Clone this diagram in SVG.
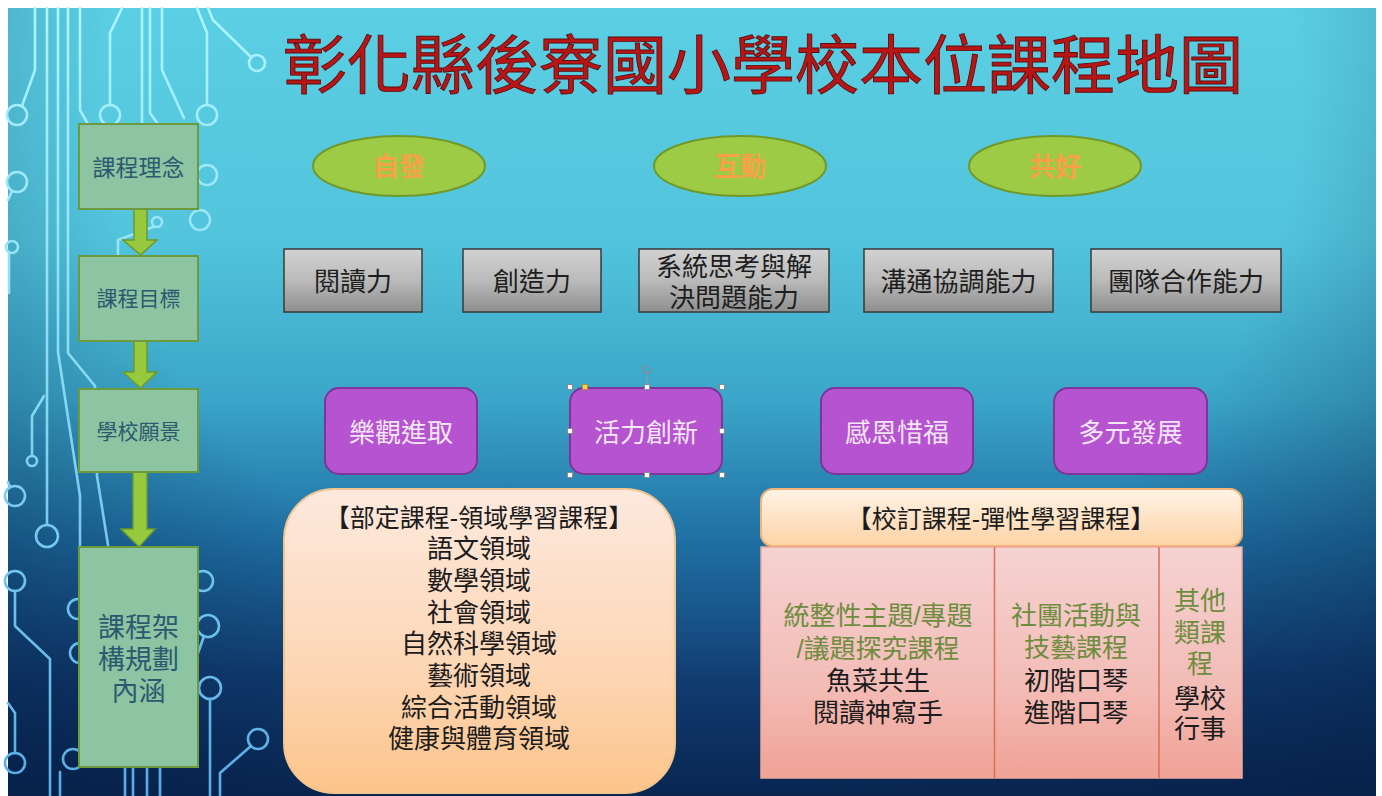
<svg xmlns="http://www.w3.org/2000/svg" width="1382" height="796" viewBox="0 0 1382 796">
<defs>
<linearGradient id="bg" x1="0" y1="0" x2="0" y2="796" gradientUnits="userSpaceOnUse">
<stop offset="0" stop-color="#5bcfe3"/>
<stop offset="0.3" stop-color="#52c4dc"/>
<stop offset="0.5" stop-color="#3ba6c9"/>
<stop offset="0.68" stop-color="#1f6fa3"/>
<stop offset="0.85" stop-color="#123f75"/>
<stop offset="1" stop-color="#0b2a58"/>
</linearGradient>
<radialGradient id="vig" cx="700" cy="100" r="1000" gradientUnits="userSpaceOnUse" gradientTransform="translate(700 100) scale(1 0.9) translate(-700 -100)">
<stop offset="0.6" stop-color="#02183c" stop-opacity="0"/>
<stop offset="1" stop-color="#02183c" stop-opacity="0.5"/>
</radialGradient>
<linearGradient id="circ" x1="0" y1="0" x2="0" y2="796" gradientUnits="userSpaceOnUse">
<stop offset="0" stop-color="#aef6ff"/>
<stop offset="0.5" stop-color="#86d8f2"/>
<stop offset="1" stop-color="#58ace4"/>
</linearGradient>
<linearGradient id="grey" x1="0" y1="0" x2="0" y2="1">
<stop offset="0" stop-color="#d2d2d2"/>
<stop offset="0.5" stop-color="#bababa"/>
<stop offset="1" stop-color="#8e8e8e"/>
</linearGradient>
<linearGradient id="peach" x1="0" y1="0" x2="0" y2="1">
<stop offset="0" stop-color="#fde9de"/>
<stop offset="0.6" stop-color="#fdd6b4"/>
<stop offset="1" stop-color="#fcc48a"/>
</linearGradient>
<linearGradient id="hdr" x1="0" y1="0" x2="0" y2="1">
<stop offset="0" stop-color="#fff3e6"/>
<stop offset="1" stop-color="#fdd3a6"/>
</linearGradient>
<linearGradient id="pink" x1="0" y1="0" x2="0" y2="1">
<stop offset="0" stop-color="#f5d2d2"/>
<stop offset="0.6" stop-color="#f3bcb6"/>
<stop offset="1" stop-color="#f0a296"/>
</linearGradient>
<style>
text{font-family:'Liberation Sans','Noto Sans CJK TC','Noto Sans CJK SC',sans-serif;text-anchor:middle}
.c{fill:none;stroke:url(#circ);stroke-width:2.6;stroke-linecap:round;stroke-linejoin:round}
.step{fill:#8dc4a2;stroke:#6c9a3c;stroke-width:2}
.stept{fill:#2b5a70}
.ell{fill:#9ecb45;stroke:#6f9a2a;stroke-width:2}
.ellt{fill:#f7a148;font-weight:bold;font-size:26px}
.gb{fill:url(#grey);stroke:#3a3a3a;stroke-width:1.5}
.gt{fill:#1e1e1e;font-size:26px}
.pb{fill:#b653d0;stroke:#7d3598;stroke-width:2}
.pt{fill:#f4e6f6;font-size:26px}
.bt{fill:#1c1c1c;font-size:26px}
.gr{fill:#6f8d3f}
.arrow{fill:#96c93d;stroke:#6b9b2c;stroke-width:1.5}
.h{fill:#ffffff;stroke:#8a8a8a;stroke-width:1}
</style>
</defs>

<rect x="0" y="0" width="1382" height="796" fill="#ffffff"/>
<rect x="8" y="8" width="1368" height="788" fill="url(#bg)"/>
<rect x="8" y="8" width="1368" height="788" fill="url(#vig)"/>

<g id="circuit">
<path class="c" d="M35,8 V70 L22,106"/><circle class="c" cx="17" cy="115" r="10"/>
<path class="c" d="M47,8 V525"/><circle class="c" cx="47" cy="536" r="11"/>
<path class="c" d="M58,8 V352 L80,496 V545"/>
<path class="c" d="M68,8 V353 L95,386 L97,476 L108,545"/>
<path class="c" d="M80,8 V110 L88,124"/>
<path class="c" d="M110,105 V33 L122,8"/><circle class="c" cx="110" cy="115" r="10"/>
<path class="c" d="M142,8 V124"/>
<path class="c" d="M150,8 V113 L158,124"/>
<path class="c" d="M162,8 V70 L184,118"/>
<path class="c" d="M207,105 V33 L197,8"/><circle class="c" cx="207" cy="115" r="10"/>
<path class="c" d="M208,8 L213,20 L251,57"/><circle class="c" cx="257" cy="63" r="8"/>
<circle class="c" cx="207" cy="175" r="10"/>
<circle class="c" cx="200" cy="220" r="10"/>
<circle class="c" cx="157" cy="222" r="5"/><path class="c" d="M153,227 L118,240 V256"/>
<circle class="c" cx="17" cy="182" r="10"/><path class="c" d="M12,191 L8,200"/>
<circle class="c" cx="12" cy="247" r="6"/><path class="c" d="M9,253 V293"/>
<circle class="c" cx="32" cy="461" r="5"/><path class="c" d="M32,456 V416 L44,396"/>
<circle class="c" cx="15" cy="496" r="10"/><path class="c" d="M10,487 L8,482"/>
<circle class="c" cx="15" cy="581" r="10"/><path class="c" d="M15,591 V626 L50,659 V796"/>
<circle class="c" cx="78" cy="609" r="10"/>
<circle class="c" cx="80" cy="653" r="10"/>
<circle class="c" cx="203" cy="581" r="10"/>
<circle class="c" cx="208" cy="626" r="11"/><path class="c" d="M204,636 L197,656"/>
<circle class="c" cx="210" cy="688" r="11"/><path class="c" d="M210,699 V796"/>
<circle class="c" cx="258" cy="739" r="10"/><path class="c" d="M251,746 L220,773 V796"/>
<circle class="c" cx="15" cy="763" r="10"/><path class="c" d="M15,753 V713 L8,703"/>
<circle class="c" cx="73" cy="759" r="10"/>
<path class="c" d="M125,767 V796 M133,767 V796 M147,767 V796 M160,767 V796"/>
<path class="c" d="M60,772 V796"/>
</g>

<g id="title">
<text x="763" y="88" style="font-size:64px;fill:#b81616;stroke:#5c0c0c;stroke-width:0.9">彰化縣後寮國小學校本位課程地圖</text>
</g>

<g id="connectors">
<path class="arrow" d="M134,209 H147 V240 H157 L140.5,255 L123,240 H134 Z"/>
<path class="arrow" d="M134,341 H147 V372 H157 L140.5,388 L123,372 H134 Z"/>
<path class="arrow" d="M133,472 H147 V529 H155 L139,547 L121,529 H133 Z"/>
</g>

<g id="step-concept"><rect class="step" x="79" y="124" width="119" height="85"/><text class="stept" x="138.5" y="175.5" style="font-size:23px">課程理念</text></g>
<g id="step-goal"><rect class="step" x="79" y="256" width="119" height="85"/><text class="stept" x="138.5" y="306" style="font-size:21px">課程目標</text></g>
<g id="step-vision"><rect class="step" x="79" y="389" width="119" height="83"/><text class="stept" x="138.5" y="439" style="font-size:21px">學校願景</text></g>
<g id="step-framework"><rect class="step" x="79" y="547" width="119" height="220"/>
<text class="stept" style="font-size:27px"><tspan x="138.5" y="637">課程架</tspan><tspan x="138.5" y="669">構規劃</tspan><tspan x="138.5" y="701">內涵</tspan></text></g>

<g id="idea-1"><ellipse class="ell" cx="399" cy="166" rx="86" ry="30"/><text class="ellt" x="399" y="176">自發</text></g>
<g id="idea-2"><ellipse class="ell" cx="740" cy="166" rx="86" ry="30"/><text class="ellt" x="740" y="176">互動</text></g>
<g id="idea-3"><ellipse class="ell" cx="1055" cy="166" rx="86" ry="30"/><text class="ellt" x="1055" y="176">共好</text></g>

<g id="goal-1"><rect class="gb" x="284" y="249" width="138" height="63"/><text class="gt" x="353" y="291">閱讀力</text></g>
<g id="goal-2"><rect class="gb" x="463" y="249" width="138" height="63"/><text class="gt" x="532" y="291">創造力</text></g>
<g id="goal-3"><rect class="gb" x="639" y="249" width="190" height="63"/><text class="gt"><tspan x="734" y="276">系統思考與解</tspan><tspan x="734" y="307">決問題能力</tspan></text></g>
<g id="goal-4"><rect class="gb" x="864" y="249" width="189" height="63"/><text class="gt" x="958.5" y="291">溝通協調能力</text></g>
<g id="goal-5"><rect class="gb" x="1091" y="249" width="190" height="63"/><text class="gt" x="1186" y="291">團隊合作能力</text></g>

<g id="vision-1"><rect class="pb" x="325" y="388" width="152" height="86" rx="14"/><text class="pt" x="401" y="442">樂觀進取</text></g>
<g id="vision-2"><rect class="pb" x="570" y="388" width="152" height="86" rx="14"/><text class="pt" x="646" y="442">活力創新</text>
<path d="M647,376 V386" stroke="#9a9a9a" stroke-width="1"/>
<path d="M650.5,367.5 A4,4 0 1 1 647,365.5" fill="none" stroke="#8a8a8a" stroke-width="1.4"/>
<rect class="h" x="567.5" y="384.5" width="5" height="5"/><rect class="h" x="644.5" y="384.5" width="5" height="5"/><rect class="h" x="719.5" y="384.5" width="5" height="5"/>
<rect class="h" x="567.5" y="428.5" width="5" height="5"/><rect class="h" x="719.5" y="428.5" width="5" height="5"/>
<rect class="h" x="567.5" y="472.5" width="5" height="5"/><rect class="h" x="644.5" y="472.5" width="5" height="5"/><rect class="h" x="719.5" y="472.5" width="5" height="5"/>
<rect x="582.5" y="384.5" width="5" height="5" fill="#f8d448" stroke="#b09030" stroke-width="0.8"/></g>
<g id="vision-3"><rect class="pb" x="821" y="388" width="152" height="86" rx="14"/><text class="pt" x="897" y="442">感恩惜福</text></g>
<g id="vision-4"><rect class="pb" x="1054" y="388" width="153" height="86" rx="14"/><text class="pt" x="1130.5" y="442">多元發展</text></g>

<g id="required-curriculum">
<rect x="284" y="489" width="391" height="304" rx="50" fill="url(#peach)" stroke="#f2c48e" stroke-width="2"/>
<text class="bt"><tspan x="479" y="527" style="font-size:25px">【部定課程-領域學習課程】</tspan><tspan x="479" y="558">語文領域</tspan><tspan x="479" y="590">數學領域</tspan><tspan x="479" y="622">社會領域</tspan><tspan x="479" y="653">自然科學領域</tspan><tspan x="479" y="685">藝術領域</tspan><tspan x="479" y="717">綜合活動領域</tspan><tspan x="479" y="748">健康與體育領域</tspan></text>
</g>

<g id="school-curriculum">
<rect x="761" y="489" width="481" height="57" rx="12" fill="url(#hdr)" stroke="#f4b273" stroke-width="2"/>
<text class="bt" x="1001" y="528" style="font-size:25px">【校訂課程-彈性學習課程】</text>
<rect x="761" y="547" width="481" height="231" fill="url(#pink)" stroke="#eea898" stroke-width="1.5"/>
<path d="M994.5,547 V778 M1159,547 V778" stroke="#d8705c" stroke-width="1.5"/>
<text class="bt"><tspan class="gr" x="878" y="625">統整性主題/專題</tspan><tspan class="gr" x="878" y="658">/議題探究課程</tspan><tspan x="878" y="690">魚菜共生</tspan><tspan x="878" y="722">閱讀神寫手</tspan></text>
<text class="bt"><tspan class="gr" x="1076" y="625">社團活動與</tspan><tspan class="gr" x="1076" y="657">技藝課程</tspan><tspan x="1076" y="690">初階口琴</tspan><tspan x="1076" y="722">進階口琴</tspan></text>
<text class="bt"><tspan class="gr" x="1200" y="610">其他</tspan><tspan class="gr" x="1200" y="642">類課</tspan><tspan class="gr" x="1200" y="673">程</tspan><tspan x="1200" y="708">學校</tspan><tspan x="1200" y="738">行事</tspan></text>
</g>
</svg>
